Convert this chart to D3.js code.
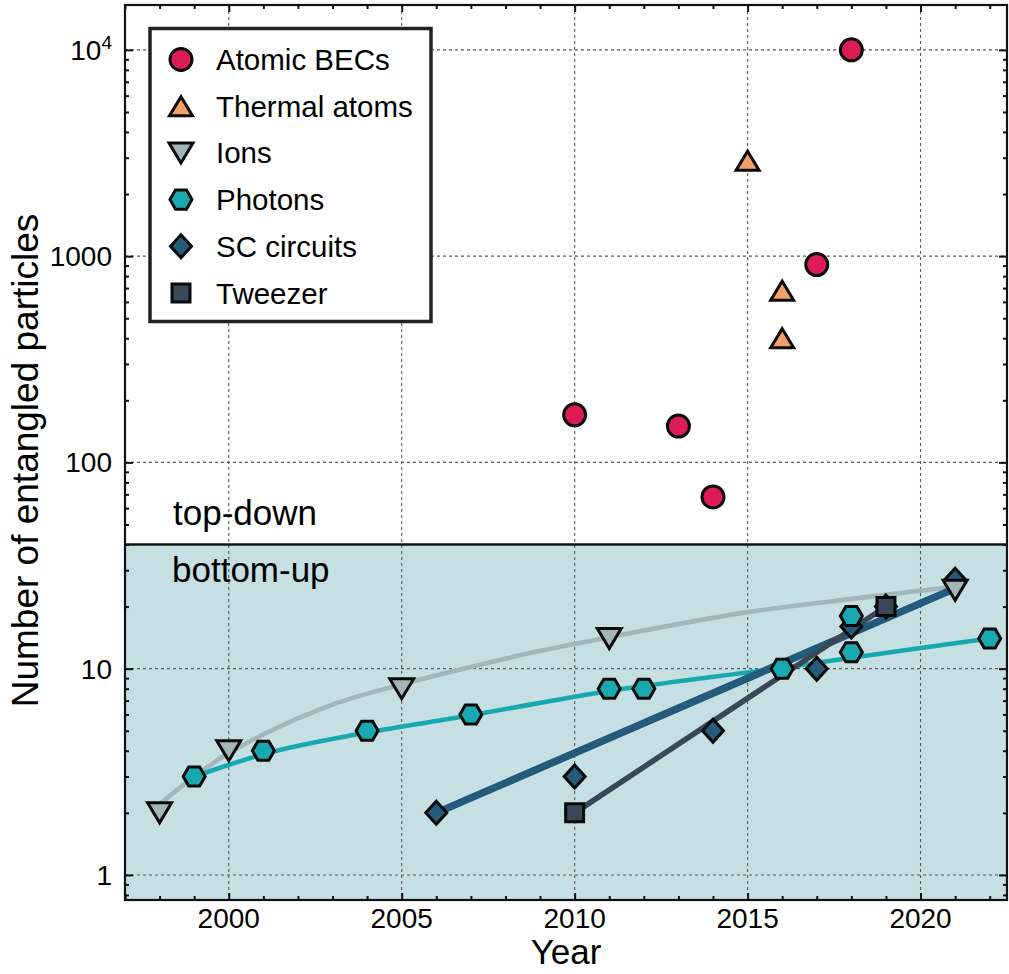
<!DOCTYPE html>
<html>
<head>
<meta charset="utf-8">
<script src="https://cdn.jsdelivr.net/npm/d3@7"></script>
<style>
  html, body { margin: 0; padding: 0; background: #ffffff; }
  svg { display: block; }
  text { font-family: "Liberation Sans", Arial, Helvetica, sans-serif; fill: #000; }
</style>
</head>
<body>
<svg id="chart" width="1009" height="974"></svg>
<script>
// ---- measured entanglement records by platform ----
const becYears = [2010, 2013, 2014, 2017, 2018];
const becN = [170, 150, 68, 910, 10000];

const thermalYears = [2015, 2016, 2016];
const thermalN = [2900, 680, 400];

const ionYears = [1998, 2000, 2005, 2011, 2021];
const ionN = [2, 4, 8, 14, 24];

const photonYears = [1999, 2001, 2004, 2007, 2011, 2012, 2016, 2018, 2018, 2022];
const photonN = [3, 4, 5, 6, 8, 8, 10, 12, 18, 14];

const scYears = [2006, 2010, 2014, 2017, 2018, 2019, 2021];
const scN = [2, 3, 5, 10, 16, 20, 27];

const tweezerYears = [2010, 2019];
const tweezerN = [2, 20];

// ---- trend curves per platform ----
const ionTrendYears = [1998, 1999, 2000, 2001, 2003, 2005, 2007, 2009, 2011, 2015, 2018, 2021];
const ionTrendN = [2.2, 3.0, 3.9, 4.8, 6.7, 8.4, 10.2, 12.2, 14.2, 18.8, 21.8, 25.0];

const photonTrendYears = [1999, 2001, 2004, 2007, 2011, 2016, 2020, 2022];
const photonTrendN = [3.0, 3.85, 4.9, 5.95, 7.8, 10.1, 12.6, 14.0];

const scTrendYears = [2006, 2021];
const scTrendN = [2, 24.5];

const tweezerTrendYears = [2010, 2019];
const tweezerTrendN = [2, 20];

// ---- axes ----
const xDomain = [1997, 2022.5];
const yDomain = [0.756, 16500];
const xTickValues = [2000, 2005, 2010, 2015, 2020];
const xTickLabels = ["2000", "2005", "2010", "2015", "2020"];
const yTickValues = [1, 10, 100, 1000, 10000];
const yTickLabels = ["1", "10", "100", "1000", "10^4"];
const regionSplit = 40;

const legendNames = ["Atomic BECs", "Thermal atoms", "Ions", "Photons", "SC circuits", "Tweezer"];

// ---- layout ----
const plot = { left: 125, right: 1007, top: 5, bottom: 900 };
const svg = d3.select("#chart");

const x = d3.scaleLinear().domain(xDomain).range([plot.left, plot.right]);
const y = d3.scaleLog().domain(yDomain).range([plot.bottom, plot.top]);

const colors = {
  bec: "#dd1c55",
  thermal: "#f2a06a",
  ion: "#a3b6b9",
  photon: "#17a9af",
  sc: "#245a7b",
  tweezer: "#3a4756",
  lower: "#c6dfe2"
};

// marker outlines, centred on the data point
const shapes = {
  circle: () => { const p = d3.path(); p.arc(0, 0, 11, 0, 2 * Math.PI); p.closePath(); return p.toString(); },
  triUp: () => "M0,-9.5L11.5,9.5L-11.5,9.5Z",
  triDown: () => "M0,10L-12,-10L12,-10Z",
  hexagon: () => {
    const R = 11, h = R * Math.sqrt(3) / 2;
    return `M${-R},0L${-R / 2},${-h}L${R / 2},${-h}L${R},0L${R / 2},${h}L${-R / 2},${h}Z`;
  },
  diamond: () => "M0,-11.5L10.5,0L0,11.5L-10.5,0Z",
  square: () => "M-9,-9L9,-9L9,9L-9,9Z"
};
const markerStroke = 3;

const clipId = "plot-clip";
svg.append("defs").append("clipPath").attr("id", clipId)
  .append("rect")
  .attr("x", plot.left).attr("y", plot.top)
  .attr("width", plot.right - plot.left).attr("height", plot.bottom - plot.top);

// lower "bottom-up" region
svg.append("rect")
  .attr("x", plot.left).attr("y", y(regionSplit))
  .attr("width", plot.right - plot.left)
  .attr("height", plot.bottom - y(regionSplit))
  .attr("fill", colors.lower);

// dashed grid
const grid = svg.append("g").attr("stroke", "#5a5a5a").attr("stroke-width", 1.1)
  .attr("stroke-dasharray", "3,3").attr("fill", "none");
grid.selectAll("line.gx").data(xTickValues).join("line").attr("class", "gx")
  .attr("x1", d => x(d)).attr("x2", d => x(d))
  .attr("y1", plot.top).attr("y2", plot.bottom);
grid.selectAll("line.gy").data(yTickValues).join("line").attr("class", "gy")
  .attr("x1", plot.left).attr("x2", plot.right)
  .attr("y1", d => y(d)).attr("y2", d => y(d));

// trend curves
const zip = (xs, ys) => xs.map((v, i) => [v, ys[i]]);
const line = d3.line().x(d => x(d[0])).y(d => y(d[1])).curve(d3.curveMonotoneX);
const trends = svg.append("g").attr("clip-path", `url(#${clipId})`).attr("fill", "none")
  .attr("stroke-linecap", "butt");
trends.append("path").attr("d", line(zip(ionTrendYears, ionTrendN)))
  .attr("stroke", colors.ion).attr("stroke-width", 4.6);
trends.append("path").attr("d", line(zip(photonTrendYears, photonTrendN)))
  .attr("stroke", colors.photon).attr("stroke-width", 4.6);
trends.append("path").attr("d", line(zip(scTrendYears, scTrendN)))
  .attr("stroke", colors.sc).attr("stroke-width", 7.5);
trends.append("path").attr("d", line(zip(tweezerTrendYears, tweezerTrendN)))
  .attr("stroke", colors.tweezer).attr("stroke-width", 5.5);

// markers
function drawMarkers(xs, ys, shape, fill) {
  svg.append("g")
    .selectAll("path").data(zip(xs, ys)).join("path")
    .attr("d", shapes[shape]())
    .attr("transform", d => `translate(${x(d[0])},${y(d[1])})`)
    .attr("fill", fill).attr("stroke", "#0a0a0a").attr("stroke-width", markerStroke)
    .attr("stroke-linejoin", "miter");
}
drawMarkers(becYears, becN, "circle", colors.bec);
drawMarkers(thermalYears, thermalN, "triUp", colors.thermal);
drawMarkers(scYears, scN, "diamond", colors.sc);
drawMarkers(ionYears, ionN, "triDown", colors.ion);
drawMarkers(photonYears, photonN, "hexagon", colors.photon);
drawMarkers(tweezerYears, tweezerN, "square", colors.tweezer);

// divider between the two regimes
svg.append("line")
  .attr("x1", plot.left).attr("x2", plot.right)
  .attr("y1", y(regionSplit)).attr("y2", y(regionSplit))
  .attr("stroke", "#111").attr("stroke-width", 2.6);

// ticks (inward) on all four sides
const minorYears = d3.range(1997, 2023).filter(v => !xTickValues.includes(v));
const minorY = [];
[0.1, 1, 10, 100, 1000, 10000].forEach(dec => {
  for (let k = 2; k <= 9; k++) {
    const v = dec * k;
    if (v > yDomain[0] && v < yDomain[1]) minorY.push(v);
  }
});

const tickSize = { major: 7, minor: 4 };
const bottomAxis = (vals, size) => d3.axisBottom(x).tickValues(vals).tickSize(-size).tickFormat("");
const topAxis = (vals, size) => d3.axisTop(x).tickValues(vals).tickSize(-size).tickFormat("");
const leftAxis = (vals, size) => d3.axisLeft(y).tickValues(vals).tickSize(-size).tickFormat("");
const rightAxis = (vals, size) => d3.axisRight(y).tickValues(vals).tickSize(-size).tickFormat("");

function addAxis(gen, transform) {
  const g = svg.append("g").attr("transform", transform).call(gen);
  g.select(".domain").remove();
  g.selectAll(".tick line").attr("stroke", "#111").attr("stroke-width", 2);
}
addAxis(bottomAxis(xTickValues, tickSize.major), `translate(0,${plot.bottom})`);
addAxis(bottomAxis(minorYears, tickSize.minor), `translate(0,${plot.bottom})`);
addAxis(topAxis(xTickValues, tickSize.major), `translate(0,${plot.top})`);
addAxis(topAxis(minorYears, tickSize.minor), `translate(0,${plot.top})`);
addAxis(leftAxis(yTickValues, tickSize.major + 1), `translate(${plot.left},0)`);
addAxis(leftAxis(minorY, tickSize.minor), `translate(${plot.left},0)`);
addAxis(rightAxis(yTickValues, tickSize.major + 1), `translate(${plot.right},0)`);
addAxis(rightAxis(minorY, tickSize.minor), `translate(${plot.right},0)`);

// frame
svg.append("rect")
  .attr("x", plot.left).attr("y", plot.top)
  .attr("width", plot.right - plot.left).attr("height", plot.bottom - plot.top)
  .attr("fill", "none").attr("stroke", "#111").attr("stroke-width", 2.2);

// tick labels
svg.append("g").selectAll("text").data(xTickValues).join("text")
  .attr("x", d => x(d)).attr("y", 928)
  .attr("text-anchor", "middle").attr("font-size", 28)
  .text((d, i) => xTickLabels[i]);

const yLab = svg.append("g").selectAll("text").data(yTickValues).join("text")
  .attr("x", 112).attr("y", d => y(d) + 10)
  .attr("text-anchor", "end").attr("font-size", 28);
yLab.each(function (d, i) {
  const parts = yTickLabels[i].split("^");
  const t = d3.select(this);
  t.append("tspan").text(parts[0]);
  if (parts.length > 1) {
    t.append("tspan").attr("dy", -11).attr("font-size", 19).text(parts[1]);
  }
});

// axis titles
svg.append("text")
  .attr("x", (plot.left + plot.right) / 2).attr("y", 964)
  .attr("text-anchor", "middle").attr("font-size", 35)
  .text("Year");
svg.append("text")
  .attr("transform", `translate(38,${(plot.top + plot.bottom) / 2 + 8}) rotate(-90)`)
  .attr("text-anchor", "middle").attr("font-size", 37)
  .text("Number of entangled particles");

// regime labels
svg.append("text").attr("x", 173).attr("y", 525).attr("font-size", 35).text("top-down");
svg.append("text").attr("x", 172).attr("y", 582).attr("font-size", 35).text("bottom-up");

// legend
const legend = svg.append("g");
legend.append("rect")
  .attr("x", 150).attr("y", 28.5).attr("width", 281).attr("height", 293)
  .attr("fill", "#fff").attr("stroke", "#222").attr("stroke-width", 3.5);
const legendShapes = ["circle", "triUp", "triDown", "hexagon", "diamond", "square"];
const legendFills = [colors.bec, colors.thermal, colors.ion, colors.photon, colors.sc, colors.tweezer];
const rowY = d3.scaleLinear().domain([0, 5]).range([59.5, 293]);
legendNames.forEach((name, i) => {
  legend.append("path")
    .attr("d", shapes[legendShapes[i]]())
    .attr("transform", `translate(181,${rowY(i)})`)
    .attr("fill", legendFills[i]).attr("stroke", "#0a0a0a").attr("stroke-width", markerStroke);
  legend.append("text")
    .attr("x", 216).attr("y", rowY(i) + 10.5)
    .attr("font-size", 29.5)
    .text(name);
});
</script>
</body>
</html>
